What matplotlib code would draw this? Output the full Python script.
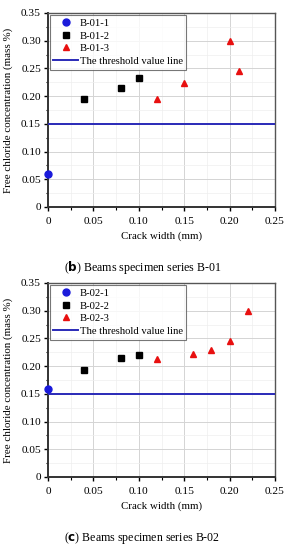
import matplotlib
matplotlib.use("Agg")
import matplotlib.pyplot as plt
from matplotlib.ticker import MultipleLocator, FixedFormatter, FixedLocator

plt.rcParams['font.family'] = ['Liberation Serif', 'DejaVu Serif']

# series B-01
b01_1_x = [0.0]
b01_1_y = [0.060]
b01_2_x = [0.04, 0.08, 0.10]
b01_2_y = [0.194, 0.214, 0.232]
b01_3_x = [0.12, 0.15, 0.20, 0.21]
b01_3_y = [0.195, 0.223, 0.299, 0.246]

# series B-02
b02_1_x = [0.0]
b02_1_y = [0.159]
b02_2_x = [0.04, 0.08, 0.10]
b02_2_y = [0.193, 0.214, 0.221]
b02_3_x = [0.12, 0.16, 0.18, 0.20, 0.22]
b02_3_y = [0.213, 0.222, 0.229, 0.246, 0.299]

threshold = 0.15
ticks = [0, 0.05, 0.10, 0.15, 0.20, 0.25, 0.30, 0.35]
tick_labels = ["0", "0.05", "0.10", "0.15", "0.20", "0.25", "0.30", "0.35"]

panels = [
    ("B-01", (b01_1_x, b01_1_y), (b01_2_x, b01_2_y), (b01_3_x, b01_3_y), "b"),
    ("B-02", (b02_1_x, b02_1_y), (b02_2_x, b02_2_y), (b02_3_x, b02_3_y), "c"),
]

fig = plt.figure(figsize=(2.92, 5.5), dpi=100)
W, H = 292, 550
axes_px = [(48, 13, 275, 207), (48, 283, 275, 477)]
caption_y = [267, 538]
blue = "#1a1adb"
line_blue = "#2a2ab8"

for (name, s1, s2, s3, letter), (l, t, r, b), cy in zip(panels, axes_px, caption_y):
    ax = fig.add_axes([l / W, 1 - b / H, (r - l) / W, (b - t) / H])
    ax.plot(s1[0], s1[1], 'o', color=blue, ms=5, label=f"{name}-1", clip_on=False, zorder=5)
    ax.plot(s2[0], s2[1], 's', color="black", ms=4.5, label=f"{name}-2", zorder=5)
    ax.plot(s3[0], s3[1], '^', color="#e81010", ms=5, label=f"{name}-3", zorder=5)
    ax.axhline(threshold, color=line_blue, lw=1.4, label="The threshold value line", zorder=4)

    ax.set_xlim(0, 0.25)
    ax.set_ylim(0, 0.35)
    ax.xaxis.set_major_locator(FixedLocator(ticks[:6]))
    ax.xaxis.set_major_formatter(FixedFormatter(tick_labels[:6]))
    ax.yaxis.set_major_locator(FixedLocator(ticks))
    ax.yaxis.set_major_formatter(FixedFormatter(tick_labels))
    ax.xaxis.set_minor_locator(MultipleLocator(0.025))
    ax.yaxis.set_minor_locator(MultipleLocator(0.025))
    ax.grid(True, which='major', color="#d4d4d4", lw=0.7)
    ax.grid(True, which='minor', color="#eeeeee", lw=0.5)
    ax.set_axisbelow(True)
    ax.tick_params(which='major', direction='out', length=3, width=1, labelsize=8.2, pad=2)
    ax.tick_params(which='minor', direction='out', length=1.8, width=0.8)
    ax.tick_params(axis='x', pad=4)
    for sp in ax.spines.values():
        sp.set_color("#555555")
        sp.set_linewidth(1.0)
    ax.spines['left'].set_color("#333333")
    ax.spines['bottom'].set_color("#333333")
    ax.spines['left'].set_linewidth(1.4)
    ax.spines['bottom'].set_linewidth(1.4)

    ax.set_xlabel("Crack width (mm)", fontsize=7.8, labelpad=4)
    ax.set_ylabel("Free chloride concentration (mass %)", fontsize=7.9)
    ax.yaxis.set_label_coords(-(l - 13) / (r - l), 0.5)

    leg = ax.legend(loc='upper left', fontsize=7.7, frameon=True, fancybox=False,
                    edgecolor="#555555", borderpad=0.35, handlelength=2.3,
                    labelspacing=0.3, handletextpad=0.15, borderaxespad=0.15)
    leg.get_frame().set_linewidth(0.8)

    fig.text(142.5 / W, 1 - cy / H, f"(${{\\bf {letter}}}$) Beams specimen series {name}",
             ha='center', va='center', fontsize=8.6)

fig.savefig("out.png", dpi=100)
